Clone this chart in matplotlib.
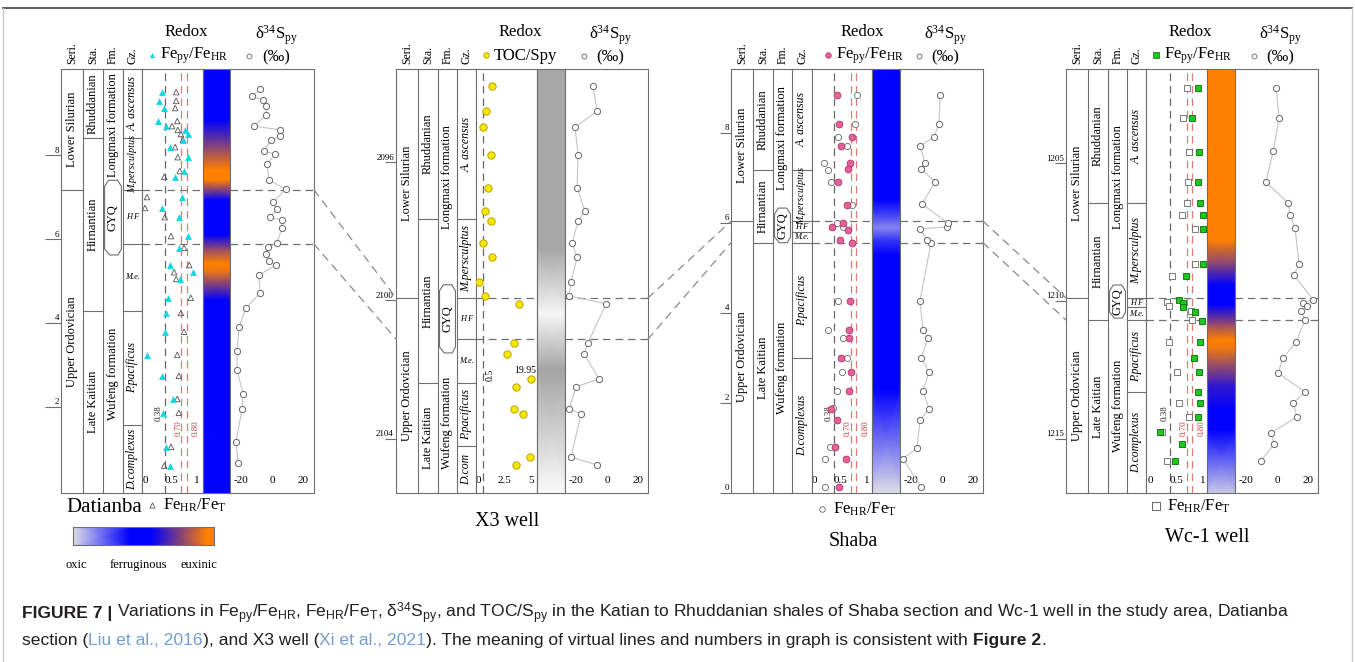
import numpy as np
import matplotlib
matplotlib.use("Agg")
import matplotlib.pyplot as plt
from matplotlib.colors import LinearSegmentedColormap
from matplotlib.patches import Polygon, ConnectionPatch
from matplotlib.lines import Line2D

# ------------------------------------------------------------------
# Datianba section (height above base, m)
# ------------------------------------------------------------------
dtb_fe_h = [9.50, 9.29, 9.12, 8.81, 8.69, 8.60, 8.50, 8.36, 8.19, 7.95, 7.62, 7.48, 7.00,
            6.74, 6.52, 6.07, 5.79, 5.38, 5.21, 5.05, 4.60, 4.24, 3.79, 3.24, 2.74, 2.19,
            1.86, 1.05, 0.60]
dtb_fepy_fehr = [0.33, 0.27, 0.37, 0.25, 0.40, 0.77, 0.83, 0.73, 0.48, 0.83, 0.75, 0.58, 0.71,
                 0.33, 0.65, 0.83, 0.65, 0.48, 0.92, 0.67, 0.44, 0.40, 0.38, 0.04, 0.33, 0.54,
                 0.35, 0.40, 0.48]
dtb_fehr_fet = [0.60, 0.60, 0.58, 0.62, 0.52, 0.63, 0.69, 0.73, 0.58, 0.63, 0.67, 0.37, 0.04,
                0.00, 0.38, 0.50, 0.75, 0.85, 0.56, 0.60, 0.88, 0.69, 0.75, 0.62, 0.65, 0.62,
                0.65, 0.50, 0.37]
dtb_s_h = [9.57, 9.40, 9.31, 9.17, 8.95, 8.69, 8.60, 8.45, 8.36, 8.10, 8.02, 7.79, 7.40, 7.19,
           6.88, 6.71, 6.52, 6.45, 6.26, 5.90, 5.81, 5.64, 5.48, 5.38, 5.14, 4.71, 4.36, 3.90,
           3.33, 2.88, 2.31, 1.95, 1.17, 0.67]
dtb_d34s = [-7.6, -12.7, -5.7, -3.8, -3.8, -11.4, 5.1, 5.1, -0.6, -5.1, 1.9, -3.2, -1.9, 8.9,
            0.6, 3.2, -1.3, 6.3, 6.3, 3.2, -2.5, -3.8, -1.9, 2.5, -8.3, -7.6, -16.5, -21.0,
            -22.2, -22.2, -18.4, -19.0, -22.9, -21.6]
dtb_series = [7.17]
dtb_stage = [8.40, 4.29]
dtb_gyq = [7.40, 5.62]
dtb_zone = [8.40, 7.17, 5.88, 4.29, 1.57]
dtb_beds = [7.17, 5.88]
dtb_bar_h = [10.05, 8.83, 8.12, 7.64, 7.40, 6.93, 6.10, 5.74, 5.43, 5.21, 4.55, -0.05]
dtb_bar_state = [0.5, 0.5, 0.8, 1.0, 1.0, 0.5, 0.5, 0.8, 1.0, 0.95, 0.5, 0.5]
dtb_ticks = [2, 4, 6, 8]

# ------------------------------------------------------------------
# X3 well (depth, m)
# ------------------------------------------------------------------
x3_depth = [2093.80, 2094.53, 2094.99, 2095.80, 2096.75, 2097.42, 2097.71, 2098.34, 2098.75,
            2099.47, 2099.87, 2100.10, 2101.23, 2101.55, 2102.27, 2102.50, 2103.14, 2103.28,
            2104.53, 2104.76]
x3_toc_spy = [1.32, 0.75, 0.47, 1.23, 0.94, 0.66, 1.23, 0.47, 1.32, 0.05, 0.66, 3.87, 3.40,
              2.74, 19.95, 3.58, 3.40, 4.25, 4.95, 3.58]
x3_d34s = [-8.9, -6.3, -20.3, -18.4, -19.0, -14.0, -18.4, -22.2, -19.0, -22.9, -24.1, -0.6,
           -12.1, -14.6, -5.1, -19.7, -24.1, -16.5, -22.9, -6.3]
x3_series = [2099.93]
x3_stage = [2097.65, 2102.39]
x3_gyq = [2099.55, 2101.52]
x3_zone = [2097.65, 2099.93, 2101.12, 2102.39, 2104.21]
x3_beds = [2099.93, 2101.12]
x3_bar_depth = [2093.31, 2098.55, 2100.40, 2102.00, 2105.57]
x3_bar_grey = [0.66, 0.66, 0.96, 0.64, 0.98]
x3_ticks = [2096, 2100, 2104]

# ------------------------------------------------------------------
# Shaba section (height above base, m)
# ------------------------------------------------------------------
sb_fe_h = [8.84, 8.20, 7.91, 7.71, 7.33, 7.20, 6.91, 6.40, 6.00, 5.91, 5.84, 5.62, 5.56, 4.27,
           3.62, 3.44, 3.00, 2.69, 2.27, 1.87, 1.62, 1.02, 0.76, 0.13]
sb_fepy_fehr = [0.43, 0.47, 0.72, 0.51, 0.68, 0.64, 0.45, 0.62, 0.55, 0.34, 0.64, 0.49, 0.72,
                0.68, 0.66, 0.66, 0.51, 0.70, 0.66, 0.32, 0.43, 0.40, 0.60, 0.47]
sb_hr_h = [8.84, 8.20, 7.91, 7.71, 7.33, 7.18, 6.91, 6.40, 6.00, 5.91, 4.27, 3.62, 3.44, 3.00,
           2.69, 2.27, 1.89, 1.02, 0.76, 0.13]
sb_fehr_fet = [0.81, 0.77, 0.45, 0.62, 0.19, 0.26, 0.32, 0.72, 0.43, 0.55, 0.45, 0.26, 0.55,
               0.62, 0.53, 0.43, 0.36, 0.30, 0.21, 0.21]
sb_s_h = [8.84, 8.20, 7.91, 7.71, 7.33, 7.20, 6.91, 6.42, 6.00, 5.91, 5.87, 5.62, 5.56, 4.27,
          3.62, 3.44, 3.00, 2.69, 2.27, 1.87, 1.62, 1.00, 0.76, 0.13]
sb_d34s = [-1.3, -1.9, -5.1, -14.0, -10.8, -13.3, -4.4, -12.7, 3.8, 3.2, -14.0, -9.5, -7.0,
           -14.0, -12.1, -8.9, -13.3, -8.3, -12.1, -8.3, -14.0, -15.9, -24.8, -13.3]
sb_series = [6.04]
sb_stage = [7.18, 5.56]
sb_gyq = [6.33, 5.56]
sb_zone = [7.18, 6.04, 5.80, 5.56, 3.00]
sb_beds = [6.04, 5.56]
sb_bar_h = [9.42, 6.51, 6.18, 5.89, 5.62, 5.29, 2.29, 0.0]
sb_bar_state = [0.5, 0.5, 0.35, 0.2, 0.38, 0.5, 0.5, 0.0]
sb_ticks = [0, 2, 4, 6, 8]

# ------------------------------------------------------------------
# Wc-1 well (depth, m)
# ------------------------------------------------------------------
wc_depth = [1202.28, 1203.37, 1204.60, 1205.69, 1206.45, 1206.88, 1207.39, 1208.66, 1209.09,
            1209.96, 1210.07, 1210.22, 1210.40, 1210.72, 1211.49, 1212.07, 1212.57, 1213.30,
            1213.70, 1214.20, 1214.75, 1215.18, 1215.80]
wc_fepy_fehr = [0.91, 0.79, 0.92, 0.91, 0.94, 1.00, 1.00, 1.00, 0.68, 0.55, 0.62, 0.62, 0.85,
                0.98, 0.94, 0.83, 0.92, 0.91, 0.94, 0.91, 0.19, 0.60, 0.47]
wc_hr_depth = [1202.28, 1203.37, 1204.60, 1205.69, 1206.45, 1206.88, 1207.39, 1208.66,
               1209.09, 1210.04, 1210.18, 1210.36, 1210.69, 1211.49, 1212.57, 1213.70,
               1214.20, 1214.75, 1215.80]
wc_fehr_fet = [0.70, 0.62, 0.74, 0.72, 0.70, 0.60, 0.85, 0.85, 0.42, 0.32, 0.36, 0.77, 0.79,
               0.36, 0.51, 0.55, 0.74, 0.23, 0.32]
wc_s_depth = [1202.28, 1203.37, 1204.57, 1205.69, 1206.45, 1206.88, 1207.36, 1208.66, 1209.06,
              1209.96, 1210.07, 1210.18, 1210.36, 1210.69, 1211.49, 1212.07, 1212.61, 1213.30,
              1213.70, 1214.20, 1214.78, 1215.18, 1215.80]
wc_d34s = [-0.6, 1.3, -2.5, -7.0, 7.0, 8.3, 11.4, 14.0, 10.8, 22.9, 16.5, 19.0, 15.2, 17.8,
           12.1, 3.8, 0.6, 17.8, 10.2, 12.7, -3.8, -1.9, -10.2]
wc_series = [1209.89]
wc_stage = [1206.45, 1210.69]
wc_gyq = [1209.42, 1210.62]
wc_zone = [1206.45, 1209.89, 1210.22, 1210.69, 1213.30]
wc_beds = [1209.89, 1210.69]
wc_bar_depth = [1201.59, 1207.79, 1208.70, 1209.42, 1210.14, 1210.87, 1211.41, 1211.78,
                1213.04, 1213.95, 1214.67, 1216.96]
wc_bar_state = [1.0, 1.0, 0.75, 0.5, 0.5, 0.8, 1.0, 0.95, 0.6, 0.5, 0.5, 0.05]
wc_ticks = [1205, 1210, 1215]

# Shared labels and thresholds
series_names = ["Lower Silurian", "Upper Ordovician"]
stage_names = ["Rhuddanian", "Hirnantian", "Late Kaitian"]
formation_names = ["Longmaxi formation", "GYQ", "Wufeng formation"]
zone_names = ["A. ascensus", "M.persculptus", "H F", "M.e.", "P.pacificus", "D.complexus"]
x3_zone_names = ["A. ascensus", "M.persculptus", "H F", "M.e.", "P.pacificus", "D.com"]
fe_thresholds = [0.38, 0.70, 0.80]
toc_threshold = 0.5
toc_cap = 5.0
legend_pos = [0.0, 0.40, 0.56, 0.95, 1.0]
legend_state = [0.0, 0.5, 0.5, 1.0, 1.0]

# ------------------------------------------------------------------
SERIF = "Liberation Serif"
SANS = "Liberation Sans"
plt.rcParams.update({
    "font.family": SERIF,
    "mathtext.fontset": "custom",
    "mathtext.rm": SERIF,
    "mathtext.it": SERIF + ":italic",
    "mathtext.bf": SERIF + ":bold",
    "mathtext.sf": SANS,
    "axes.unicode_minus": False,
})

W, H = 1355, 662
PT = 0.72  # points per pixel at 100 dpi
fig = plt.figure(figsize=(W / 100, H / 100), dpi=100)
fig.patch.set_facecolor("white")
renderer = fig.canvas.get_renderer()

LINE = "#6e6e6e"
DASH = (0, (6, 4))
redox_cmap = LinearSegmentedColormap.from_list(
    "redox", [(0.0, "#dedee6"), (0.5, "#0000ff"), (1.0, "#ff8000")])
TOP, BOT = 69, 493


def px_axes(x0, y0, x1, y1):
    return fig.add_axes([x0 / W, 1 - y1 / H, (x1 - x0) / W, (y1 - y0) / H])


def ftext(x, y, s, **kw):
    return fig.text(x / W, 1 - y / H, s, **kw)


def frame(ax):
    for sp in ax.spines.values():
        sp.set_color(LINE)
        sp.set_linewidth(0.8)


def vertical_gradient(ax, depth, values, cmap):
    X = np.array([[0.0, 1.0]] * len(depth))
    Y = np.array([[d, d] for d in depth])
    C = np.array([[v, v] for v in values])
    ax.pcolormesh(X, Y, C, shading="gouraud", cmap=cmap, vmin=0, vmax=1)


def draw_section(lay, series_b, stage_b, gyq, zone_b, znames, beds, ticks, tick_len=11):
    L = lay["left"]
    c1, c2, c3, c4 = lay["cols"]
    b0, b1 = lay["bar"]
    R = lay["right"]
    ylim = lay["ylim"]
    top_v, bot_v = ylim[1], ylim[0]
    down = 1 if ylim[0] > ylim[1] else -1
    ppu = (BOT - TOP) / abs(ylim[1] - ylim[0])

    # --- stratigraphic columns ---
    ax = px_axes(L, TOP, c4, BOT)
    ax.set_xlim(0, c4 - L)
    ax.set_ylim(ylim)
    ax.set_xticks([])
    frame(ax)
    colx = [0, c1 - L, c2 - L, c3 - L, c4 - L]
    for xv in colx[1:-1]:
        ax.axvline(xv, color=LINE, lw=0.8)

    def column(i, inner, names, fs=9, italic=False):
        xa, xb = colx[i], colx[i + 1]
        bounds = [top_v] + list(inner) + [bot_v]
        for b in inner:
            ax.plot([xa, xb], [b, b], color=LINE, lw=0.8)
        for t, b, nm in zip(bounds[:-1], bounds[1:], names):
            mid = (t + b) / 2
            if nm in ("H F", "M.e."):
                ax.text((xa + xb) / 2, mid, nm, fontsize=6, style="italic",
                        ha="center", va="center")
            else:
                txt = ax.text((xa + xb) / 2, mid, nm, fontsize=fs, rotation=90,
                              style="italic" if italic else "normal",
                              ha="center", va="center")
                room = abs(t - b) * ppu + 6
                tall = txt.get_window_extent(renderer).height
                if tall > room:
                    txt.set_fontsize(max(7.0, fs * room / tall))

    column(0, series_b, series_names)
    column(1, stage_b, stage_names)
    column(3, zone_b, znames, fs=8.5, italic=True)

    # formation column with the GYQ bed outline
    xa, xb = colx[2], colx[3]
    w = xb - xa
    t, b = gyq
    s = min(6, 0.2 * abs(b - t) * ppu) / ppu
    hexagon = [(xa + 0.28 * w, t), (xa + 0.72 * w, t), (xa + 0.92 * w, t + down * s),
               (xa + 0.92 * w, b - down * s), (xa + 0.75 * w, b), (xa + 0.33 * w, b),
               (xa + 0.08 * w, b - down * s), (xa + 0.08 * w, t + down * s)]
    ax.add_patch(Polygon(hexagon, closed=True, fill=False, ec=LINE, lw=0.8))
    ax.text((xa + xb) / 2, (top_v + t) / 2, formation_names[0], rotation=90,
            fontsize=9, ha="center", va="center")
    ax.text((xa + xb) / 2, (t + b) / 2, formation_names[1], rotation=90,
            fontsize=9, ha="center", va="center")
    ax.text((xa + xb) / 2, (b + bot_v) / 2, formation_names[2], rotation=90,
            fontsize=9, ha="center", va="center")

    # depth / height scale
    ax.set_yticks(ticks)
    ax.tick_params(axis="y", direction="out", length=tick_len * PT, width=0.8,
                   color=LINE, labelleft=False)
    for tv in ticks:
        ax.annotate(str(tv), xy=(0, tv), xycoords=ax.get_yaxis_transform(),
                    xytext=(-2 * PT, 0.5 * PT), textcoords="offset points",
                    ha="right", va="bottom", fontsize=6.5)

    # column headers
    centers = [(L + c1) / 2, (c1 + c2) / 2, (c2 + c3) / 2, (c3 + c4) / 2]
    for cx, lab in zip(centers, ["Seri.", "Sta.", "Fm.", "Gz."]):
        ftext(cx, 64, lab, rotation=90, ha="center", va="bottom", fontsize=8.5)

    # --- redox proxies ---
    axr = px_axes(c4, TOP, b0, BOT)
    axr.set_xlim(lay["rxlim"])
    axr.set_ylim(ylim)
    axr.set_yticks([])
    frame(axr)
    axr.set_xticks(lay["rticks"])
    axr.set_xticklabels(lay["rticklabels"])
    axr.tick_params(axis="x", length=0, pad=-12.5, labelsize=8)
    for bd in beds:
        axr.axhline(bd, color="#707070", lw=0.9, ls=DASH, zorder=1)

    # --- redox colour bar ---
    axb = px_axes(b0, TOP, b1, BOT)
    axb.set_xlim(0, 1)
    axb.set_ylim(ylim)
    axb.set_xticks([])
    axb.set_yticks([])
    frame(axb)

    # --- sulfur isotopes ---
    axd = px_axes(b1, TOP, R, BOT)
    axd.set_xlim(lay["dxlim"])
    axd.set_ylim(ylim)
    axd.set_yticks([])
    frame(axd)
    axd.set_xticks([-20, 0, 20])
    axd.tick_params(axis="x", length=0, pad=-12.5, labelsize=8)
    for bd in beds:
        axd.axhline(bd, color="#707070", lw=0.9, ls=DASH, zorder=1)

    return ax, axr, axb, axd


def isotope_curve(axd, depth, vals):
    order = np.argsort(depth)
    d = np.asarray(depth)[order]
    v = np.asarray(vals)[order]
    axd.plot(v, d, color="#c4c4c4", lw=0.8, zorder=2)
    axd.scatter(v, d, s=20, facecolor="white", edgecolor="#666666", lw=0.7, zorder=3)


def fe_guides(axr):
    colors = ["#666666", "#e07a7a", "#e07a7a"]
    lab_col = ["#222222", "#d03a3a", "#d03a3a"]
    offs = [-6, -3, 9]
    ylab = [0.189, 0.153, 0.153]
    tr = axr.get_xaxis_transform()
    for thr, c, lc, o, yl in zip(fe_thresholds, colors, lab_col, offs, ylab):
        axr.axvline(thr, color=c, lw=0.9, ls=DASH, zorder=1)
        axr.annotate(f"{thr:.2f}", xy=(thr, yl), xycoords=tr, xytext=(o * PT, 0),
                     textcoords="offset points", rotation=90, ha="center", va="center",
                     fontsize=6.5, color=lc)


# ------------------------------------------------------------------
# Datianba
lay1 = dict(left=61, cols=[83, 103, 123, 142], bar=(203, 230), right=314,
            ylim=(-0.05, 10.05), rxlim=(-0.058, 1.115), rticks=[0, 0.5, 1],
            rticklabels=["0", "0.5", "1"], dxlim=(-26.7, 26.7))
s1, r1, b1, d1 = draw_section(lay1, dtb_series, dtb_stage, dtb_gyq, dtb_zone, zone_names,
                              dtb_beds, dtb_ticks, tick_len=16)
vertical_gradient(b1, dtb_bar_h, dtb_bar_state, redox_cmap)
fe_guides(r1)
r1.scatter(dtb_fehr_fet, dtb_fe_h, marker="^", s=16, facecolor="none",
           edgecolor="#555555", lw=0.6, zorder=3)
r1.scatter(dtb_fepy_fehr, dtb_fe_h, marker="^", s=24, color="#12d6e4", lw=0, zorder=4)
isotope_curve(d1, dtb_s_h, dtb_d34s)

# X3 well
lay2 = dict(left=396, cols=[418, 438, 457, 476], bar=(537, 565), right=648,
            ylim=(2105.57, 2093.31), rxlim=(-0.19, 5.57), rticks=[0, 2.5, 5],
            rticklabels=["0", "2.5", "5"], dxlim=(-26.7, 26.0))
s2, r2, b2, d2 = draw_section(lay2, x3_series, x3_stage, x3_gyq, x3_zone, x3_zone_names,
                              x3_beds, x3_ticks)
vertical_gradient(b2, x3_bar_depth, x3_bar_grey, "gray")
r2.axvline(toc_threshold, color="#666666", lw=0.9, ls=DASH, zorder=1)
r2.annotate(f"{toc_threshold}", xy=(toc_threshold, 0.278), xycoords=r2.get_xaxis_transform(),
            xytext=(7 * PT, 0), textcoords="offset points", rotation=90,
            ha="center", va="center", fontsize=7)
toc_plot = np.minimum(x3_toc_spy, toc_cap)
r2.scatter(toc_plot, x3_depth, s=28, facecolor="#f4e800", edgecolor="#c0a400",
           lw=0.7, zorder=4)
for v, vp, dd in zip(x3_toc_spy, toc_plot, x3_depth):
    if v > toc_cap:
        r2.annotate(f"{v:.2f}", xy=(vp, dd), xytext=(-6 * PT, 8 * PT),
                    textcoords="offset points", ha="center", va="center", fontsize=7)
isotope_curve(d2, x3_depth, x3_d34s)

# Shaba section
lay3 = dict(left=731, cols=[753, 773, 792, 812], bar=(872, 900), right=983,
            ylim=(0.0, 9.42), rxlim=(-0.038, 1.094), rticks=[0, 0.5, 1],
            rticklabels=["0", "0.5", "1"], dxlim=(-26.7, 26.0))
s3, r3, b3, d3 = draw_section(lay3, sb_series, sb_stage, sb_gyq, sb_zone, zone_names,
                              sb_beds, sb_ticks)
vertical_gradient(b3, sb_bar_h, sb_bar_state, redox_cmap)
fe_guides(r3)
r3.scatter(sb_fehr_fet, sb_hr_h, marker="o", s=20, facecolor="white",
           edgecolor="#666666", lw=0.6, zorder=3)
r3.scatter(sb_fepy_fehr, sb_fe_h, marker="o", s=24, facecolor="#e8609a",
           edgecolor="#a83a6a", lw=0.6, zorder=4)
isotope_curve(d3, sb_s_h, sb_d34s)

# Wc-1 well
lay4 = dict(left=1066, cols=[1088, 1108, 1127, 1146], bar=(1207, 1235), right=1318,
            ylim=(1216.96, 1201.59), rxlim=(-0.075, 1.075), rticks=[0, 0.5, 1],
            rticklabels=["0", "0.5", "1"], dxlim=(-26.7, 26.0))
s4, r4, b4, d4 = draw_section(lay4, wc_series, wc_stage, wc_gyq, wc_zone, zone_names,
                              wc_beds, wc_ticks)
vertical_gradient(b4, wc_bar_depth, wc_bar_state, redox_cmap)
fe_guides(r4)
r4.scatter(wc_fehr_fet, wc_hr_depth, marker="s", s=18, facecolor="white",
           edgecolor="#666666", lw=0.6, zorder=3)
r4.scatter(wc_fepy_fehr, wc_depth, marker="s", s=22, facecolor="#1cc81c",
           edgecolor="#0b6a0b", lw=0.6, zorder=4)
isotope_curve(d4, wc_s_depth, wc_d34s)

# correlation lines between sections
links = [(d1, dtb_beds, s2, x3_beds), (d2, x3_beds, s3, sb_beds), (d3, sb_beds, s4, wc_beds)]
for axA, bA, axB, bB in links:
    for ya, yb in zip(bA, bB):
        con = ConnectionPatch(xyA=(1, ya), coordsA=axA.get_yaxis_transform(),
                              xyB=(0, yb), coordsB=axB.get_yaxis_transform(),
                              color="#8a8a8a", lw=0.9, ls=(0, (6, 5)))
        fig.add_artist(con)

# ------------------------------------------------------------------
# headers and legends
FE_PY = r"Fe$_{\mathrm{py}}$/Fe$_{\mathrm{HR}}$"
FE_HR = r"Fe$_{\mathrm{HR}}$/Fe$_{\mathrm{T}}$"
D34 = r"δ$^{34}$S$_{\mathrm{py}}$"


def header(lay, label, mstyle, dx=0):
    c4 = lay["cols"][-1]
    b0, b1 = lay["bar"]
    R = lay["right"]
    ftext((c4 + b1) / 2 + dx, 32, "Redox", ha="center", va="center", fontsize=12)
    ax = px_axes(c4 + 10 + dx - 4, 51, c4 + 10 + dx + 4, 59)
    ax.set_axis_off()
    ax.set_xlim(-1, 1)
    ax.set_ylim(-1, 1)
    ax.scatter([0], [0], **mstyle)
    ftext(c4 + 18 + dx, 56, label, ha="left", va="center", fontsize=12)
    ftext((b1 + R) / 2 + 4, 35, D34, ha="center", va="center", fontsize=12)
    ax2 = px_axes(b1 + 19 - 4, 52, b1 + 19 + 4, 60)
    ax2.set_axis_off()
    ax2.set_xlim(-1, 1)
    ax2.set_ylim(-1, 1)
    ax2.scatter([0], [0], s=12, facecolor="white", edgecolor="#666666", lw=0.6)
    ftext((b1 + R) / 2 + 4, 57, "(‰)", ha="center", va="center", fontsize=12)


def foot_legend(lay, y, mstyle):
    c4 = lay["cols"][-1]
    ax = px_axes(c4 + 10 - 4, y - 4, c4 + 10 + 4, y + 4)
    ax.set_axis_off()
    ax.set_xlim(-1, 1)
    ax.set_ylim(-1, 1)
    ax.scatter([0], [0], **mstyle)
    ftext(c4 + 21, y, FE_HR, ha="left", va="center", fontsize=12)


header(lay1, FE_PY, dict(marker="^", s=14, color="#12d6e4", lw=0))
header(lay2, "TOC/Spy", dict(marker="o", s=16, facecolor="#f4e800", edgecolor="#c0a400", lw=0.6))
header(lay3, FE_PY, dict(marker="o", s=16, facecolor="#e8609a", edgecolor="#a83a6a", lw=0.5), dx=6)
header(lay4, FE_PY, dict(marker="s", s=14, facecolor="#1cc81c", edgecolor="#0b6a0b", lw=0.5))

foot_legend(lay1, 505, dict(marker="^", s=14, facecolor="white", edgecolor="#555555", lw=0.6))
foot_legend(lay3, 509, dict(marker="o", s=16, facecolor="white", edgecolor="#666666", lw=0.6))
foot_legend(lay4, 506, dict(marker="s", s=30, facecolor="white", edgecolor="#666666", lw=0.7))

ftext(66, 508, "Datianba", ha="left", va="center", fontsize=15)
ftext(507, 522, "X3 well", ha="center", va="center", fontsize=14.5)
ftext(853, 541, "Shaba", ha="center", va="center", fontsize=14.5)
ftext(1207, 538, "Wc-1 well", ha="center", va="center", fontsize=14.5)

# redox state scale
axl = px_axes(73, 527, 214, 545)
Xl = np.array([legend_pos, legend_pos])
Yl = np.array([[0.0] * len(legend_pos), [1.0] * len(legend_pos)])
Cl = np.array([legend_state, legend_state])
axl.pcolormesh(Xl, Yl, Cl, shading="gouraud", cmap=redox_cmap, vmin=0, vmax=1)
axl.set_xlim(0, 1)
axl.set_ylim(0, 1)
axl.set_xticks([])
axl.set_yticks([])
frame(axl)
ftext(76, 565, "oxic", ha="center", va="center", fontsize=9)
ftext(138, 565, "ferruginous", ha="center", va="center", fontsize=9)
ftext(199, 565, "euxinic", ha="center", va="center", fontsize=9)

# ------------------------------------------------------------------
# page frame
fig.add_artist(Line2D([3 / W, 1352 / W], [1 - 8 / H, 1 - 8 / H], transform=fig.transFigure,
                      color="#5a5a5a", lw=1.4))
for xv in (3, 1352):
    fig.add_artist(Line2D([xv / W, xv / W], [1 - 8 / H, 0], transform=fig.transFigure,
                          color="#c8c8c8", lw=1.0))

# caption
CAP_COL = "#231f20"
LINK_COL = "#6f9fd3"


def rich_line(x_px, y_px, parts, size=12.6):
    x = x_px
    for s, kw in parts:
        t = fig.text(x / W, 1 - y_px / H, s, fontsize=size, family=SANS,
                     ha="left", va="baseline", **kw)
        x += t.get_window_extent(renderer).width


line1 = [("FIGURE 7 | ", dict(weight="bold", color=CAP_COL)),
         (r"Variations in Fe$_{\mathsf{py}}$/Fe$_{\mathsf{HR}}$, Fe$_{\mathsf{HR}}$/Fe$_{\mathsf{T}}$, "
          r"δ$^{\mathsf{34}}$S$_{\mathsf{py}}$, and TOC/S$_{\mathsf{py}}$ in the Katian to Rhuddanian "
          r"shales of Shaba section and Wc-1 well in the study area, Datianba",
          dict(color=CAP_COL))]
line2 = [("section (", dict(color=CAP_COL)),
         ("Liu et al., 2016", dict(color=LINK_COL)),
         ("), and X3 well (", dict(color=CAP_COL)),
         ("Xi et al., 2021", dict(color=LINK_COL)),
         ("). The meaning of virtual lines and numbers in graph is consistent with ",
          dict(color=CAP_COL)),
         ("Figure 2", dict(weight="bold", color=CAP_COL)),
         (".", dict(color=CAP_COL))]
rich_line(22, 618, line1)
rich_line(22, 645, line2)

fig.savefig("out.png", dpi=100, facecolor="white")
